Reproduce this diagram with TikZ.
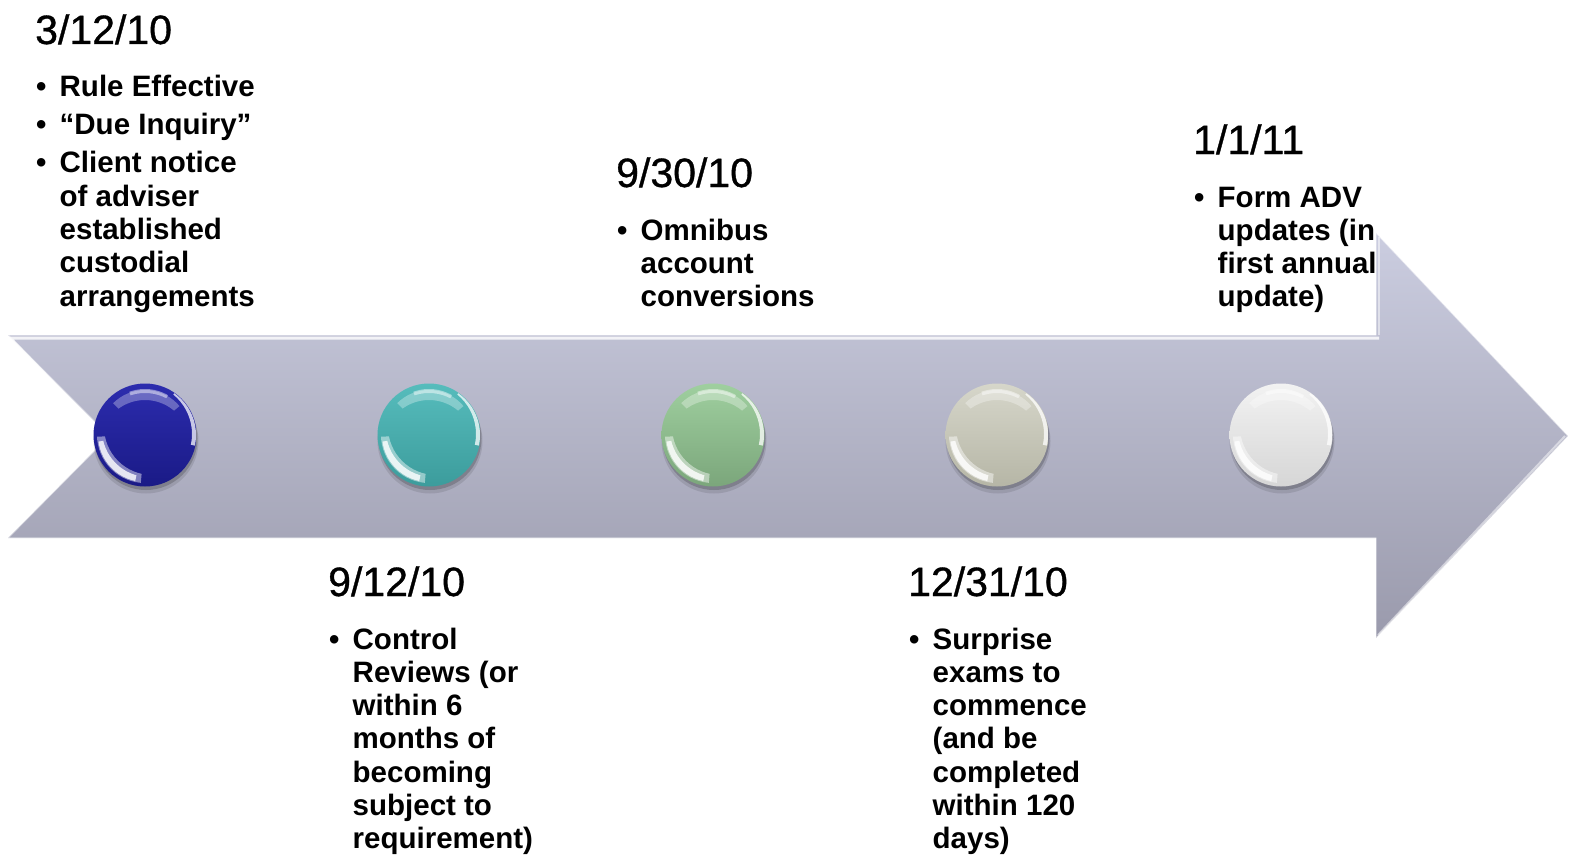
\documentclass[tikz,border=0pt]{standalone}
\usepackage{fontspec}
\setmainfont{Liberation Sans}
\newfontfamily\headfont{Liberation Sans}[FakeBold=0.8]
\usetikzlibrary{calc}
\definecolor{arrtop}{HTML}{CBCDE0}
\definecolor{arrbot}{HTML}{9A9AAC}
\definecolor{navyT}{HTML}{2C2CAE}\definecolor{navyB}{HTML}{1A1A86}
\definecolor{tealT}{HTML}{56BCBC}\definecolor{tealB}{HTML}{3C9C9C}
\definecolor{grnT}{HTML}{9FCF9F}\definecolor{grnB}{HTML}{7BA67B}
\definecolor{begT}{HTML}{D6D6CA}\definecolor{begB}{HTML}{B6B6A6}
\definecolor{whtT}{HTML}{F2F2F2}\definecolor{whtB}{HTML}{D6D6D6}
\newcommand{\bul}[1]{\par\hangindent=24.5pt\hangafter=1\noindent\makebox[24.5pt][l]{\hspace{1pt}\textbullet}#1}
\newcommand{\tlblock}[2]{\parbox[t]{320pt}{\raggedright\setlength\parindent{0pt}{\headfont\fontsize{41}{41}\selectfont #1\par}\fontsize{29.5}{33.3}\selectfont\bfseries\setlength\parskip{4.7pt}\vspace{15pt}#2}}
\tikzset{
  txt/.style={anchor=base west, inner sep=0pt, text=black},
  btn/.style={circle, minimum size=103pt, inner sep=0pt},
}
% crescent: #1 centre, #2 radius, #3 shift of the cut-away circle, #4 start, #5 end angle, #6 opacity
\newcommand{\crescent}[6]{%
  \begin{scope}
    \clip ($(#1)$) -- ($(#1)+(#4:70pt)$) arc[start angle=#4, end angle=#5, radius=70pt] -- cycle;
    \fill[white, opacity=#6, even odd rule] ($(#1)$) circle[radius=#2] ($(#1)+(#3)$) circle[radius=#2];
  \end{scope}}
\newcommand{\button}[4]{%
  \fill[black, opacity=0.10] ($(#1)+(1,6)$) circle[radius=52.5pt];
  \fill[black, opacity=0.18] ($(#1)+(1,3.5)$) circle[radius=51.5pt];
  \node[btn, top color=#2, bottom color=#3] (#4) at (#1) {};
  \crescent{#4.center}{48pt}{7pt,8pt}{182}{265}{0.45}
  \crescent{#4.center}{47pt}{4pt,5pt}{188}{258}{0.8}
  \crescent{#4.center}{45pt}{0pt,-10pt}{40}{135}{0.3}
  \crescent{#4.center}{46pt}{0pt,-4pt}{60}{110}{0.45}
  \crescent{#4.center}{51pt}{-4pt,1pt}{-12}{55}{0.75}
}
\begin{document}
\begin{tikzpicture}[x=1pt,y=-1pt]
\useasboundingbox (0,0) rectangle (1570,856);
% arrow
\coordinate (a1) at (8,335);
\coordinate (a2) at (1376,335);
\coordinate (a3) at (1376,233);
\coordinate (a4) at (1568,436);
\coordinate (a5) at (1376,638);
\coordinate (a6) at (1376,538);
\coordinate (a7) at (8,538);
\coordinate (a8) at (109,436);
\shade[top color=arrtop, bottom color=arrbot] (a1) -- (a2) -- (a3) -- (a4) -- (a5) -- (a6) -- (a7) -- (a8) -- cycle;
\draw[white, opacity=0.5, line width=1.2pt, line join=round] (a1) -- (a2) -- (a3) -- (a4) -- (a5) -- (a6) -- (a7) -- (a8) -- cycle;
\draw[white, opacity=0.8, line width=3pt] ($(a8)+(-4,0)$) -- ($(a1)+(2,3)$) -- ($(a2)+(3,3)$);
\draw[white, opacity=0.5, line width=2.5pt] ($(a3)+(3,4)$) -- ($(a2)+(3,0)$);
\draw[white, opacity=0.5, line width=2pt] ($(a4)+(-3,0)$) -- ($(a5)+(2,-3)$);
% buttons
\button{145,435}{navyT}{navyB}{c1}
\button{429,435}{tealT}{tealB}{c2}
\button{713,435}{grnT}{grnB}{c3}
\button{997,435}{begT}{begB}{c4}
\button{1281,435}{whtT}{whtB}{c5}
% texts
\node[txt] (t1) at (35,44) {\tlblock{3/12/10}{\bul{Rule Effective}\bul{“Due Inquiry”}\bul{Client notice\newline of adviser\newline established\newline custodial\newline arrangements}}};
\node[txt] (t2) at (328,596) {\tlblock{9/12/10}{\bul{Control\newline Reviews (or\newline within 6\newline months of\newline becoming\newline subject to\newline requirement)}}};
\node[txt] (t3) at (616,187) {\tlblock{9/30/10}{\bul{Omnibus\newline account\newline conversions}}};
\node[txt] (t4) at (908,596) {\tlblock{12/31/10}{\bul{Surprise\newline exams to\newline commence\newline (and be\newline completed\newline within 120\newline days)}}};
\node[txt] (t5) at (1193,154) {\tlblock{1/1/11}{\bul{Form ADV\newline updates (in\newline first annual\newline update)}}};
\end{tikzpicture}
\end{document}
